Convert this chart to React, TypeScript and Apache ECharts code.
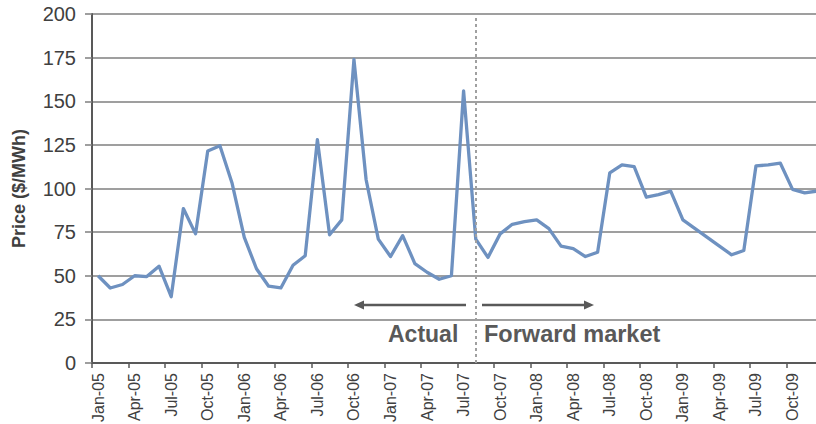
import React, { useEffect, useRef } from "react";
import * as echarts from "echarts";

// Monthly categories Jan-05 .. Dec-09
const monthNames = ["Jan", "Feb", "Mar", "Apr", "May", "Jun", "Jul", "Aug", "Sep", "Oct", "Nov", "Dec"];
const years = ["05", "06", "07", "08", "09"];
const months: string[] = years.flatMap((y) => monthNames.map((m) => `${m}-${y}`));

// Electricity price, $/MWh (actual to Jul-07, forward market afterwards)
const price2005 = [50, 43, 45, 50, 49.5, 55.5, 38, 88.5, 74, 121.5, 124.5, 103];
const price2006 = [72, 54, 44, 43, 56, 61.5, 128, 73.5, 82, 174, 105, 71];
const price2007 = [61, 73, 57, 52, 48, 50, 156, 71, 60.5, 74, 79.5, 81];
const price2008 = [82, 77, 67, 65.5, 61, 63.5, 109, 113.5, 112.5, 95, 96.5, 98.5];
const price2009 = [82, 77, 72, 67, 62, 64.5, 113, 113.5, 114.5, 99.5, 97.5, 98.5];
const prices = [...price2005, ...price2006, ...price2007, ...price2008, ...price2009];

// First forward-market month, where the divider sits
const forwardStart = "Aug-07";

const yTicks = { min: 0, max: 200, interval: 25 };

const FONT = "'Liberation Sans', Arial, Helvetica, sans-serif";
const ARROW = "#595959";

export default function App() {
  const ref = useRef<HTMLDivElement>(null);

  useEffect(() => {
    const chart = echarts.init(ref.current!, null, { renderer: "svg" });
    chart.setOption({
      animation: false,
      backgroundColor: "#ffffff",
      grid: { left: 92, top: 14, width: 731, height: 349, outerBoundsMode: "none", containLabel: false },
      xAxis: {
        type: "category",
        data: months,
        boundaryGap: true,
        axisLine: { show: true, lineStyle: { color: "#595959", width: 2 } },
        axisTick: { show: true, interval: 2, length: 5, lineStyle: { color: "#595959", width: 1.5 } },
        axisLabel: {
          interval: 2,
          rotate: 90,
          margin: 10,
          fontSize: 16,
          color: "#404040",
          fontFamily: FONT,
        },
        splitLine: { show: false },
      },
      yAxis: {
        type: "value",
        min: yTicks.min,
        max: yTicks.max,
        interval: yTicks.interval,
        name: "Price ($/MWh)",
        nameLocation: "middle",
        nameGap: 64,
        nameTextStyle: { fontSize: 18, fontWeight: "bold", color: "#404040", fontFamily: FONT },
        axisLine: { show: true, lineStyle: { color: "#595959", width: 2 } },
        axisTick: { show: true, length: 7, lineStyle: { color: "#7f7f7f", width: 1.5 } },
        axisLabel: { fontSize: 20, color: "#404040", margin: 16, fontFamily: FONT },
        splitLine: { show: true, lineStyle: { color: "#7f7f7f", width: 1.5 } },
      },
      series: [
        {
          type: "line",
          data: prices,
          showSymbol: false,
          symbol: "none",
          lineStyle: { color: "#6e91c0", width: 3.3, join: "round" },
          markLine: {
            silent: true,
            symbol: "none",
            label: { show: false },
            lineStyle: { color: "#a0a0a0", type: [3, 3], width: 2 },
            data: [{ xAxis: forwardStart }],
          },
        },
      ],
      graphic: [
        // "Actual" arrow pointing left
        { type: "line", shape: { x1: 362, y1: 305, x2: 466, y2: 305 }, style: { stroke: ARROW, lineWidth: 2.5 } },
        { type: "polygon", shape: { points: [[354, 305], [364, 300.5], [364, 309.5]] }, style: { fill: ARROW } },
        // "Forward market" arrow pointing right
        { type: "line", shape: { x1: 482, y1: 305, x2: 586, y2: 305 }, style: { stroke: ARROW, lineWidth: 2.5 } },
        { type: "polygon", shape: { points: [[594, 305], [584, 300.5], [584, 309.5]] }, style: { fill: ARROW } },
        {
          type: "text",
          x: 388,
          y: 334,
          style: { text: "Actual", font: `bold 23px ${FONT}`, fill: "#595959", verticalAlign: "middle" },
        },
        {
          type: "text",
          x: 484,
          y: 334,
          style: { text: "Forward market", font: `bold 23.5px ${FONT}`, fill: "#595959", verticalAlign: "middle" },
        },
      ],
    });
    return () => chart.dispose();
  }, []);

  return (
    <div
      ref={ref}
      style={{ position: "fixed", left: 0, top: 0, width: 816, height: 424, background: "#ffffff" }}
    />
  );
}
